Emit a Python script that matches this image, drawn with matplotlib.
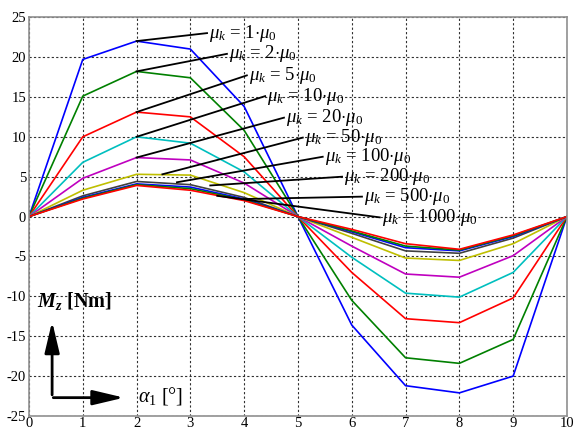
import numpy as np
import matplotlib
matplotlib.use("Agg")
from matplotlib import pyplot as plt

plt.rcParams['font.family'] = ['Liberation Serif', 'DejaVu Serif']
plt.rcParams['mathtext.fontset'] = 'custom'
plt.rcParams['mathtext.rm'] = 'Liberation Serif'
plt.rcParams['mathtext.it'] = 'Liberation Serif:italic'
plt.rcParams['mathtext.bf'] = 'Liberation Serif:bold:italic'

# angle steps
alpha = [0, 1, 2, 3, 4, 5, 6, 7, 8, 9, 10]
# friction factors mu_k / mu_0
factors = [1, 2, 5, 10, 20, 50, 100, 200, 500, 1000]
# Mz [Nm] for each factor
mz_1 = [0, 19.7, 22.0, 21.0, 13.8, 0, -13.6, -21.2, -22.1, -20.0, 0]
mz_2 = [0, 15.1, 18.2, 17.4, 10.8, 0, -10.5, -17.7, -18.4, -15.4, 0]
mz_5 = [0, 10.0, 13.1, 12.5, 7.5, 0, -7.0, -12.8, -13.3, -10.2, 0]
mz_10 = [0, 6.8, 10.0, 9.2, 5.6, 0, -5.1, -9.6, -10.1, -7.0, 0]
mz_20 = [0, 4.8, 7.4, 7.1, 4.2, 0, -3.7, -7.2, -7.6, -4.9, 0]
mz_50 = [0, 3.3, 5.3, 5.2, 3.0, 0, -2.6, -5.2, -5.5, -3.4, 0]
mz_100 = [0, 2.6, 4.4, 4.0, 2.4, 0, -2.1, -4.3, -4.6, -2.7, 0]
mz_200 = [0, 2.4, 4.1, 3.7, 2.2, 0, -1.9, -3.9, -4.3, -2.5, 0]
mz_500 = [0, 2.3, 4.0, 3.5, 2.1, 0, -1.8, -3.7, -4.2, -2.4, 0]
mz_1000 = [0, 2.2, 3.9, 3.3, 2.0, 0, -1.6, -3.4, -4.1, -2.3, 0]
series = [mz_1, mz_2, mz_5, mz_10, mz_20, mz_50, mz_100, mz_200, mz_500, mz_1000]

colors = ['#0000ff', '#008000', '#ff0000', '#00bfbf', '#bf00bf', '#bfbf00',
          '#404040', '#0000ff', '#008000', '#ff0000']

# leader line start (on curve) and label position, data coords
label_from = [(2, 22.0), (2, 18.2), (2, 13.1), (2, 10.0), (2, 7.4),
              (2.48, 5.3), (2.75, 4.3), (3.37, 3.9), (4.0, 2.2), (3.5, 2.6)]
label_to = [(3.31, 23.0), (3.68, 20.4), (4.05, 17.7), (4.39, 15.1), (4.74, 12.4),
            (5.09, 9.9), (5.46, 7.5), (5.82, 5.0), (6.19, 2.5), (6.52, -0.1)]

fig = plt.figure(figsize=(5.75, 4.29), dpi=100)
ax = fig.add_axes([0.0504, 0.0303, 0.9356, 0.9297])

for ys, c in zip(series, colors):
    ax.plot(alpha, ys, color=c, lw=1.2)

for f, p0, p1 in zip(factors, label_from, label_to):
    ax.plot([p0[0], p1[0]], [p0[1], p1[1]], color='black', lw=1.3)
    ax.text(p1[0] + 0.04, p1[1], r'$\mu_k$ = ' + str(f) + r'$\cdot\mu_0$',
            fontsize=13.5, va='center', ha='left')

ax.set_xlim(0, 10)
ax.set_ylim(-25, 25)
ax.set_xticks(range(0, 11))
ax.set_yticks(range(-25, 26, 5))
ax.set_yticklabels([str(v) for v in range(-25, 26, 5)])
ax.grid(True, color='#303030', linestyle=(0, (2, 2)), lw=0.8)
ax.tick_params(length=0, labelsize=10.5)
ax.tick_params(axis='x', pad=1)
ax.tick_params(axis='y', pad=2)
for s in ax.spines.values():
    s.set_color('#909090')
    s.set_linewidth(1.2)

# axis direction arrows
head = '-|>,head_length=1.9,head_width=0.45'
ax.annotate('', xy=(0.43, -12.8), xytext=(0.43, -22.7),
            arrowprops=dict(arrowstyle=head, color='black', lw=2))
ax.annotate('', xy=(1.82, -22.7), xytext=(0.40, -22.7),
            arrowprops=dict(arrowstyle=head, color='black', lw=2))
ax.text(0.15, -10.6, r'$\mathbf{M_z}$ [Nm]', fontsize=14.5,
        fontweight='bold', va='center', ha='left')
ax.text(2.03, -22.5, r'$\mathit{\alpha_1}$ [°]', fontsize=14.5,
        va='center', ha='left')

fig.savefig('out.png', dpi=100)
